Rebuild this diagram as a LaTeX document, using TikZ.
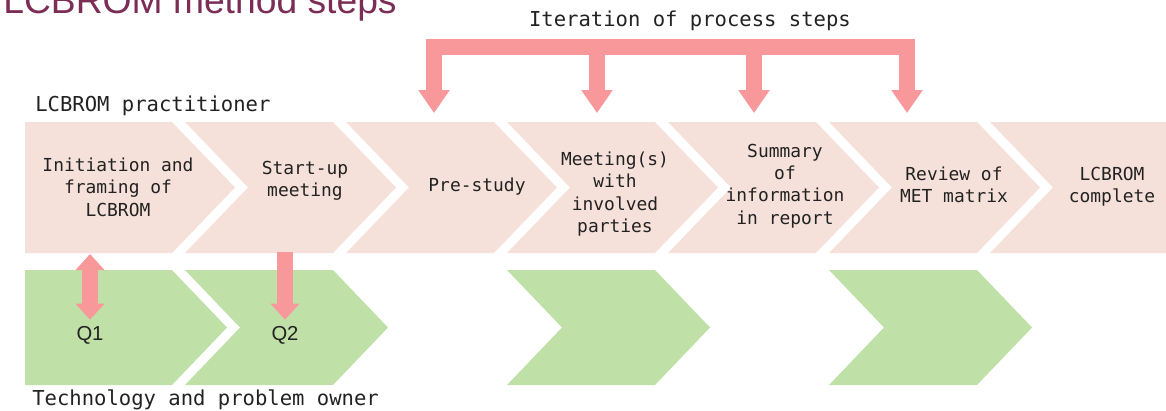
\documentclass[tikz,border=0pt]{standalone}
\usepackage{fontspec}
\setmainfont{Liberation Sans}
\setmonofont{DejaVu Sans Mono}
\usetikzlibrary{arrows.meta}
\definecolor{stepfill}{HTML}{F6E1DA}
\definecolor{ownerfill}{HTML}{BFE0A6}
\definecolor{looprose}{HTML}{F8989A}
\definecolor{titleplum}{HTML}{7B2D56}
\definecolor{inkgrey}{HTML}{222222}

\begin{document}
\begin{tikzpicture}[x=0.02cm, y=-0.02cm,
    steptext/.style={font=\ttfamily\fontsize{10.2}{12.7}\selectfont, align=center, text=inkgrey},
    lanetext/.style={font=\ttfamily\fontsize{11.7}{14}\selectfont, text=inkgrey, inner sep=0pt},
    fatarrow/.style={looprose, line width=0.31cm, line join=miter},
    >={Triangle[width=0.6cm,length=0.46cm]}]

          \useasboundingbox (0,0) rectangle (1166,410);

          \fill[stepfill] (25,122) -- (172,122) -- (235,187.5) -- (172,253) -- (25,253) -- cycle;
          \foreach \i in {1,...,5}{
            \fill[stepfill, shift={(161*\i,0)}] (24,122) -- (172,122) -- (235,187.5) -- (172,253) -- (24,253) -- (87,187.5) -- cycle;
          }
          \fill[stepfill] (990,122) -- (1170,122) -- (1170,253) -- (990,253) -- (1053,187.5) -- cycle;

          \fill[ownerfill] (25,270) -- (172,270) -- (227,327.5) -- (172,385) -- (25,385) -- cycle;
          \foreach \i in {1,3,5}{
            \fill[ownerfill, shift={(161*\i,0)}] (24,270) -- (172,270) -- (227,327.5) -- (172,385) -- (24,385) -- (79,327.5) -- cycle;
          }

          \node[anchor=base west, inner sep=0pt, font=\fontsize{21.2}{24}\selectfont, text=titleplum] (title) at (3,13) {LCBROM method steps};
          \node[lanetext, anchor=base] (iter) at (690,26) {Iteration of process steps};
          \node[lanetext, anchor=base west] (practitioner) at (35,111) {LCBROM practitioner};
          \node[lanetext, anchor=base west] (owner) at (32,405) {Technology and problem owner};

          \node[steptext] (init) at (118,187) {Initiation and\\framing of\\LCBROM};
          \node[steptext] (startup) at (305,181) {Start-up\\meeting};
          \node[steptext] (prestudy) at (477,187) {Pre-study};
          \node[steptext] (meeting) at (615,194) {Meeting(s)\\with\\involved\\parties};
          \node[steptext] (summary) at (785,186) {Summary\\of\\information\\in report};
          \node[steptext] (review) at (954,185) {Review of\\MET matrix};
          \node[steptext] (complete) at (1112,187) {LCBROM\\complete};

          \node[anchor=base, font=\fontsize{11.5}{13}\selectfont, text=inkgrey] (q1) at (90,340) {Q1};
          \node[anchor=base, font=\fontsize{11.5}{13}\selectfont, text=inkgrey] (q2) at (285,340) {Q2};

          \coordinate (it1) at (434,113);
          \coordinate (it2) at (597,113);
          \coordinate (it3) at (754,113);
          \coordinate (it4) at (907,113);
          \draw[fatarrow, <->] (it1) -- (434,47) -- (907,47) -- (it4);
          \foreach \x/\c in {597/it2,754/it3}{
            \draw[fatarrow, ->] (\x,47) -- (\c);
          }

          \coordinate (q1in) at (90,254);
          \coordinate (q2in) at (285,252);
          \draw[fatarrow, {Triangle[width=0.56cm,length=0.32cm]}-{Triangle[width=0.56cm,length=0.32cm]}] (q1in) -- (q1);
          \draw[fatarrow, -{Triangle[width=0.56cm,length=0.32cm]}] (q2in) -- (q2);
        \end{tikzpicture}
\end{document}
